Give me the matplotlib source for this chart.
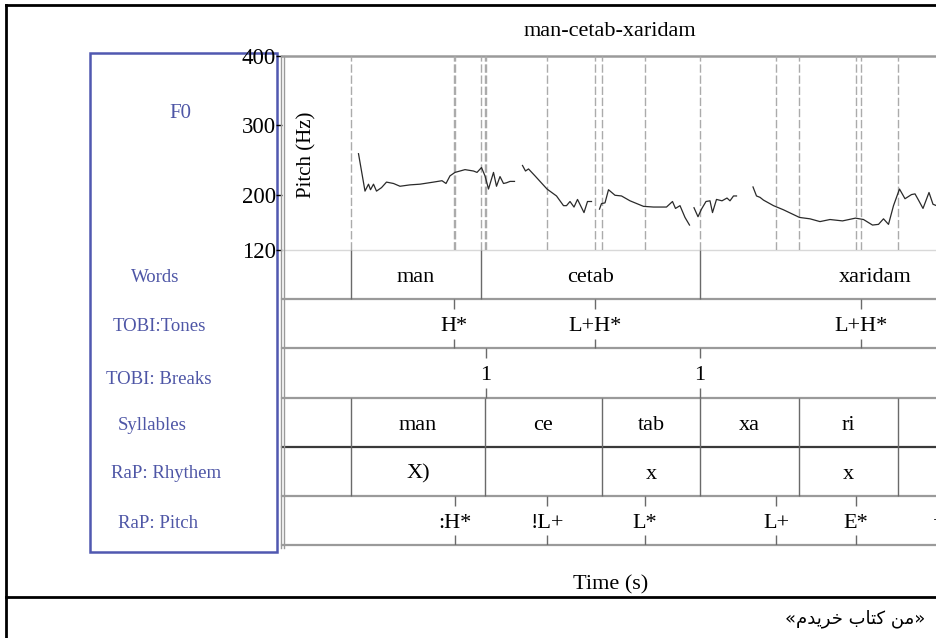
import matplotlib
matplotlib.use("Agg")
import matplotlib.pyplot as plt
from matplotlib.patches import Rectangle
from matplotlib.lines import Line2D

plt.rcParams['font.family'] = ['Liberation Serif', 'DejaVu Serif']

# ---------------- data ----------------
title = "man-cetab-xaridam"
panel_name = "F0"
tier_names = ["Words", "TOBI:Tones", "TOBI: Breaks", "Syllables", "RaP: Rhythem", "RaP: Pitch"]
pitch_ticks = [120, 200, 300, 400]

# F0 contour (time s, Hz), voiced segments
seg1_t = [0.153, 0.166, 0.173, 0.177, 0.183, 0.189, 0.199, 0.209, 0.223, 0.236, 0.256, 0.276,
          0.303, 0.320, 0.328, 0.336, 0.346, 0.366, 0.383, 0.390, 0.399, 0.406, 0.413, 0.423,
          0.429, 0.436, 0.443, 0.449, 0.456, 0.465]
seg1_hz = [259, 205, 215, 207, 215, 205, 210, 218, 216, 212, 214, 215,
           218, 220, 216, 227, 232, 236, 234, 232, 239, 227, 208, 232,
           212, 226, 216, 217, 219, 219]
seg2_t = [0.481, 0.487, 0.493, 0.506, 0.530, 0.549, 0.563, 0.569, 0.576, 0.584, 0.591, 0.604, 0.611, 0.619]
seg2_hz = [242, 234, 237, 227, 208, 198, 184, 184, 190, 182, 193, 174, 190, 190]
seg3_t = [0.635, 0.639, 0.646, 0.653, 0.666, 0.679, 0.696, 0.723, 0.743, 0.769, 0.781, 0.787, 0.796, 0.806, 0.815]
seg3_hz = [179, 187, 188, 207, 199, 198, 191, 183, 182, 182, 190, 180, 184, 167, 156]
seg4_t = [0.824, 0.832, 0.839, 0.848, 0.856, 0.861, 0.869, 0.880, 0.890, 0.896, 0.903, 0.909]
seg4_hz = [181, 168, 179, 190, 191, 174, 193, 191, 195, 191, 198, 198]
seg5_t = [0.942, 0.949, 0.956, 0.963, 0.983, 1.003, 1.035, 1.056, 1.076, 1.096, 1.121, 1.147,
          1.163, 1.181, 1.193, 1.203, 1.213, 1.223, 1.235, 1.246, 1.259, 1.266, 1.273, 1.282,
          1.294, 1.302, 1.309]
seg5_hz = [211, 198, 196, 192, 184, 178, 167, 165, 161, 164, 162, 166,
           164, 156, 157, 165, 157, 184, 208, 194, 200, 201, 192, 180,
           203, 186, 184]

# TextGrid tiers
word_bounds = [0.138, 0.398, 0.836, 1.536]
word_labels = ["man", "cetab", "xaridam"]
tone_times = [0.344, 0.626, 1.158]
tone_labels = ["H*", "L+H*", "L+H*"]
break_times = [0.408, 0.836]
break_labels = ["1", "1"]
syll_bounds = [0.138, 0.406, 0.640, 0.836, 1.034, 1.232, 1.536]
syll_labels = ["man", "ce", "tab", "xa", "ri", ""]
rhythm_labels = ["X)", "", "x", "", "x", ""]
rap_times = [0.346, 0.530, 0.726, 0.988, 1.148, 1.314]
rap_labels = [":H*", "!L+", "L*", "L+", "E*", "+"]

# Persian caption «من کتاب خریدم», written in visual order with Arabic presentation forms
caption_fa = ("\u00AB" + "\uFEE1\uFEAA\uFBFE\uFEAE\uFEA7" + " " + "\uFE8F\uFE8E\uFE98\uFB90"
              + " " + "\uFEE6\uFEE3" + "\u00BB")

# ---------------- layout ----------------
W, H = 937, 638
fig = plt.figure(figsize=(W / 100, H / 100), dpi=100)

def fx(x):
    return x / W

def fy(y):
    return 1 - y / H

L, R = 282, 980
TOP, MID, BOT = 56, 250, 545
PXS = 500.0
XMAX = (R - L) / PXS

blue = '#4e56a6'
grid_gray = '#9a9a9a'

# pitch panel
ax = fig.add_axes([fx(L), fy(MID), (R - L) / W, (MID - TOP) / H])
ax.set_xlim(0, XMAX)
ax.set_ylim(120, 400)
for s in ax.spines.values():
    s.set_visible(False)
ax.set_xticks([])
ax.set_yticks(pitch_ticks)
ax.set_yticklabels([str(v) for v in pitch_ticks])
ax.tick_params(axis='y', direction='out', length=4, width=1.0, color='black', pad=0.5, labelsize=16.5)
ax.axhline(400, color=grid_gray, lw=1.8, clip_on=False)
ax.axhline(120, color='#d8d8d8', lw=1.0, clip_on=False)

all_marks = sorted(set(word_bounds[:-1] + tone_times + break_times + syll_bounds[:-1] + rap_times))
ax.vlines(all_marks, 120, 400, colors='#ababab', linestyles=(0, (6, 2)), lw=1.0)

for t, f in [(seg1_t, seg1_hz), (seg2_t, seg2_hz), (seg3_t, seg3_hz), (seg4_t, seg4_hz), (seg5_t, seg5_hz)]:
    ax.plot(t, f, color='#2a2a2a', lw=0.9)

ax.text(0.05, 258, "Pitch (Hz)", rotation=90, ha='center', va='center', fontsize=15)

# tiers panel
tax = fig.add_axes([fx(L), fy(BOT), (R - L) / W, (BOT - MID) / H])
tax.set_xlim(0, XMAX)
tax.set_ylim(6, 0)
tax.axis('off')
for i in range(1, 7):
    col = '#3a3a3a' if i == 4 else grid_gray
    tax.axhline(i, color=col, lw=1.6, clip_on=False)

tier_fs = 16
DY = 0.56

def interval_tier(row, bounds, labels):
    tax.vlines(bounds, row, row + 1, colors='#6a6a6a', lw=1.0)
    for a, b, lab in zip(bounds[:-1], bounds[1:], labels):
        if lab:
            tax.text((a + b) / 2, row + DY, lab, ha='center', va='center', fontsize=tier_fs)

def point_tier(row, times, labels):
    tax.vlines(times, row, row + 0.2, colors='#6a6a6a', lw=1.0)
    tax.vlines(times, row + 0.8, row + 1, colors='#6a6a6a', lw=1.0)
    for t, lab in zip(times, labels):
        tax.text(t, row + DY, lab, ha='center', va='center', fontsize=tier_fs)

interval_tier(0, word_bounds, word_labels)
point_tier(1, tone_times, tone_labels)
point_tier(2, break_times, break_labels)
interval_tier(3, syll_bounds, syll_labels)
interval_tier(4, syll_bounds, rhythm_labels)
point_tier(5, rap_times, rap_labels)

# left double border of the drawing
for xx in (281, 283.5):
    fig.add_artist(Line2D([fx(xx), fx(xx)], [fy(TOP), fy(548)], color=grid_gray, lw=1.0,
                          transform=fig.transFigure))

# blue label box
fig.add_artist(Rectangle((fx(90), fy(552)), (277 - 90) / W, (552 - 53) / H, fill=False,
                         edgecolor='#5058b0', lw=1.8, transform=fig.transFigure, zorder=0))
fig.text(fx(180), fy(114), panel_name, color=blue, fontsize=15, ha='center', va='center')
label_pos = [(155, 277), (159, 327), (159, 379), (152, 425), (166, 474), (158, 523)]
for name, (xx, yy) in zip(tier_names, label_pos):
    fig.text(fx(xx), fy(yy), name, color=blue, fontsize=13.5, ha='center', va='center')

# titles
fig.text(fx(610), fy(31), title, fontsize=16, ha='center', va='center')
fig.text(fx(611), fy(585), "Time (s)", fontsize=16, ha='center', va='center')

# outer frame
for xs, ys in [([6, 937], [5, 5]), ([6, 6], [5, 638]), ([6, 937], [597, 597])]:
    fig.add_artist(Line2D([fx(v) for v in xs], [fy(v) for v in ys], color='black', lw=2.0,
                          transform=fig.transFigure))

fig.text(fx(925), fy(619), caption_fa, fontsize=13, ha='right', va='center', family=['DejaVu Sans'])

fig.savefig("out.png", dpi=100)
